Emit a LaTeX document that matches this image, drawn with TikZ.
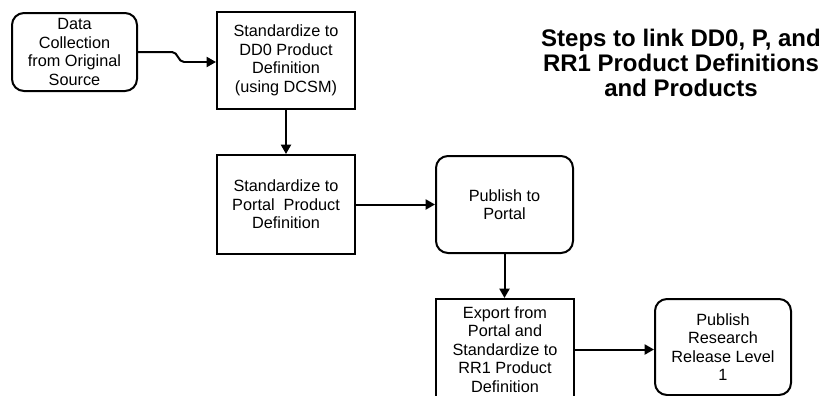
\documentclass[tikz,border=0pt]{standalone}
\usepackage{fontspec}
\setmainfont{Liberation Sans}
\usetikzlibrary{arrows.meta}
\begin{document}
\begin{tikzpicture}[x=0.75pt,y=-0.75pt,
  box/.style={draw, line width=1.5pt, align=center, inner sep=0pt,
    font=\fontsize{12.2}{13.9}\selectfont},
  rbox/.style={box, rounded corners=9pt},
  conn/.style={line width=1.5pt, -{Triangle[length=7pt,width=7.5pt]}}]
\clip (0,0) rectangle (828,396);
\useasboundingbox (0,0) rectangle (828,396);
\fill[white] (0,0) rectangle (828,396);

\node[rbox, minimum width=93.75pt, minimum height=58.5pt] (b1) at (74.5,52)
  {Data\\Collection\\from Original\\Source};
\node[box, minimum width=103.5pt, minimum height=72.75pt] (b2) at (286,60.5)
  {Standardize to\\DD0 Product\\Definition\\(using DCSM)};
\node[box, minimum width=103.5pt, minimum height=74.25pt] (b3) at (286,204.5)
  {Standardize to\\Portal\ \ Product\\Definition};
\node[rbox, minimum width=102.75pt, minimum height=72.75pt] (b4) at (504.5,204.5)
  {Publish to\\Portal};
\node[box, minimum width=103.5pt, minimum height=75.75pt] (b5) at (505,349.5)
  {Export from\\Portal and\\Standardize to\\RR1 Product\\Definition};
\node[rbox, minimum width=102pt, minimum height=72pt] (b6) at (723,347)
  {Publish\\Research\\Release Level\\1};

\node[align=center, font=\fontsize{18}{18.75}\selectfont\bfseries] (title) at (681,63)
  {Steps to link DD0, P, and\\RR1 Product Definitions\\and Products};

\draw[line width=1.5pt] (b1.east) -- ++(34,0) to[out=0,in=180] ++(12,10) coordinate (k);
\draw[conn] (k) -- (k -| b2.west);
\draw[conn] (b2.south) -- (b3.north);
\draw[conn] (b3.east) -- (b4.west);
\draw[conn] (b4.south) -- (b5.north -| b4.south);
\draw[conn] (b5.east) -- (b6.west |- b5.east);
\end{tikzpicture}
\end{document}
